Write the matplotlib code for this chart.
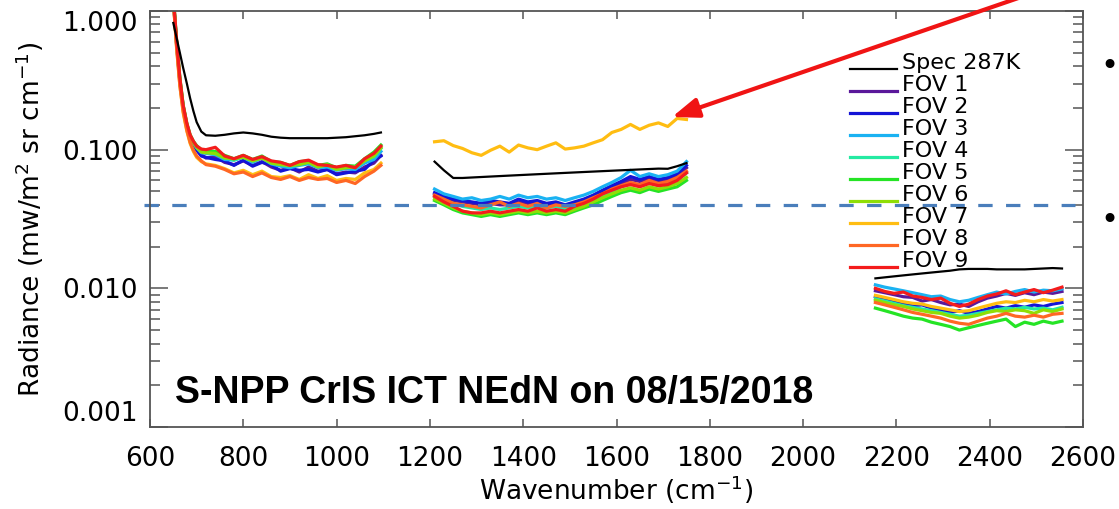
import numpy as np
import matplotlib
matplotlib.use('Agg')
import matplotlib.pyplot as plt
from matplotlib import font_manager
from matplotlib.ticker import FixedLocator, LogLocator, FormatStrFormatter, NullFormatter

# legend entries and FOV colours (FOV 1 .. FOV 9)
labels = ['Spec 287K'] + ['FOV %d' % i for i in range(1, 10)]
fov_colors = ['#5a189a', '#1414d6', '#1ab2f2', '#24eaa2', '#25e425',
              '#8fde05', '#ffbd12', '#ff6724', '#f41c1c']

# longwave band
lw_wn = [650, 657, 664, 671, 679, 686, 693, 700, 710, 720, 740, 760, 780, 800, 820,
         840, 860, 880, 900, 920, 940, 960, 980, 1000, 1020, 1040, 1060, 1080, 1095]
lw_spec = [0.82, 0.64, 0.50, 0.39, 0.30, 0.235, 0.19, 0.158, 0.135, 0.127,
           0.126, 0.128, 0.131, 0.133, 0.131, 0.128, 0.124, 0.122, 0.121, 0.121,
           0.121, 0.121, 0.121, 0.122, 0.123, 0.125, 0.127, 0.130, 0.133]
lw_fov = [
    [1.22, 0.58, 0.31, 0.20, 0.148, 0.123, 0.110, 0.101, 0.092, 0.087,
     0.089, 0.081, 0.078, 0.083, 0.077, 0.082, 0.075, 0.071, 0.074, 0.069,
     0.075, 0.070, 0.072, 0.067, 0.069, 0.068, 0.075, 0.080, 0.091],
    [1.20, 0.57, 0.31, 0.20, 0.147, 0.122, 0.109, 0.099, 0.090, 0.088,
     0.085, 0.083, 0.077, 0.084, 0.076, 0.081, 0.078, 0.070, 0.073, 0.071,
     0.072, 0.069, 0.072, 0.066, 0.068, 0.070, 0.072, 0.084, 0.090],
    [1.24, 0.59, 0.32, 0.205, 0.150, 0.125, 0.112, 0.103, 0.095, 0.094,
     0.092, 0.085, 0.084, 0.088, 0.081, 0.087, 0.079, 0.076, 0.074, 0.077,
     0.079, 0.074, 0.075, 0.071, 0.073, 0.072, 0.080, 0.085, 0.097],
    [1.25, 0.60, 0.32, 0.208, 0.152, 0.126, 0.113, 0.104, 0.098, 0.096,
     0.093, 0.089, 0.084, 0.090, 0.083, 0.088, 0.080, 0.078, 0.076, 0.079,
     0.081, 0.076, 0.077, 0.072, 0.075, 0.074, 0.083, 0.089, 0.102],
    [1.27, 0.61, 0.33, 0.21, 0.154, 0.128, 0.115, 0.107, 0.100, 0.098,
     0.097, 0.091, 0.086, 0.091, 0.085, 0.090, 0.082, 0.081, 0.077, 0.082,
     0.083, 0.077, 0.079, 0.074, 0.077, 0.076, 0.086, 0.096, 0.108],
    [1.25, 0.60, 0.32, 0.207, 0.152, 0.126, 0.113, 0.104, 0.096, 0.095,
     0.094, 0.087, 0.086, 0.088, 0.083, 0.087, 0.080, 0.078, 0.077, 0.078,
     0.081, 0.075, 0.078, 0.072, 0.074, 0.075, 0.083, 0.090, 0.103],
    [1.18, 0.54, 0.29, 0.185, 0.136, 0.111, 0.097, 0.088, 0.082, 0.079,
     0.077, 0.073, 0.068, 0.071, 0.066, 0.070, 0.064, 0.063, 0.065, 0.061,
     0.066, 0.062, 0.065, 0.060, 0.062, 0.061, 0.068, 0.072, 0.080],
    [1.19, 0.55, 0.29, 0.19, 0.138, 0.113, 0.099, 0.090, 0.083, 0.078,
     0.076, 0.072, 0.067, 0.069, 0.064, 0.068, 0.063, 0.061, 0.064, 0.060,
     0.063, 0.061, 0.062, 0.058, 0.060, 0.057, 0.064, 0.070, 0.077],
    [1.28, 0.62, 0.33, 0.21, 0.155, 0.128, 0.115, 0.106, 0.101, 0.100,
     0.104, 0.090, 0.086, 0.091, 0.085, 0.089, 0.083, 0.081, 0.077, 0.082,
     0.084, 0.078, 0.077, 0.075, 0.077, 0.074, 0.086, 0.094, 0.106],
]

# midwave band
mw_wn = [1210, 1230, 1250, 1270, 1290, 1310, 1330, 1350, 1370, 1390, 1410, 1430, 1450, 1470,
         1490, 1510, 1530, 1550, 1570, 1590, 1610, 1630, 1650, 1670, 1690, 1710, 1730, 1750]
mw_spec = [0.082, 0.071, 0.0625, 0.0625, 0.063, 0.0635, 0.064, 0.0645, 0.065, 0.0655,
           0.066, 0.0665, 0.067, 0.0675, 0.068, 0.0685, 0.069, 0.0695, 0.070, 0.0705,
           0.071, 0.0715, 0.072, 0.0725, 0.073, 0.0728, 0.076, 0.080]
mw_fov = [
    [0.048, 0.045, 0.043, 0.042, 0.041, 0.040, 0.041, 0.040, 0.040, 0.042,
     0.041, 0.042, 0.040, 0.041, 0.039, 0.041, 0.043, 0.046, 0.049, 0.053,
     0.057, 0.061, 0.059, 0.062, 0.059, 0.061, 0.065, 0.074],
    [0.049, 0.046, 0.044, 0.043, 0.042, 0.041, 0.043, 0.042, 0.041, 0.044,
     0.042, 0.043, 0.041, 0.042, 0.040, 0.042, 0.044, 0.047, 0.051, 0.055,
     0.059, 0.064, 0.061, 0.064, 0.061, 0.063, 0.067, 0.077],
    [0.052, 0.048, 0.046, 0.044, 0.045, 0.043, 0.044, 0.046, 0.044, 0.047,
     0.045, 0.046, 0.044, 0.045, 0.043, 0.045, 0.047, 0.050, 0.054, 0.058,
     0.063, 0.071, 0.064, 0.067, 0.064, 0.066, 0.070, 0.082],
    [0.046, 0.043, 0.041, 0.039, 0.038, 0.037, 0.038, 0.037, 0.038, 0.039,
     0.038, 0.039, 0.038, 0.039, 0.037, 0.039, 0.041, 0.044, 0.047, 0.050,
     0.054, 0.057, 0.055, 0.058, 0.055, 0.057, 0.060, 0.068],
    [0.043, 0.040, 0.037, 0.035, 0.034, 0.033, 0.034, 0.033, 0.034, 0.035,
     0.034, 0.035, 0.034, 0.035, 0.034, 0.036, 0.038, 0.040, 0.043, 0.046,
     0.049, 0.051, 0.049, 0.052, 0.050, 0.052, 0.054, 0.060],
    [0.044, 0.041, 0.038, 0.036, 0.035, 0.034, 0.035, 0.034, 0.035, 0.036,
     0.035, 0.036, 0.035, 0.036, 0.035, 0.037, 0.039, 0.042, 0.045, 0.048,
     0.051, 0.053, 0.051, 0.054, 0.052, 0.054, 0.057, 0.063],
    [0.114, 0.116, 0.107, 0.102, 0.095, 0.091, 0.099, 0.106, 0.096, 0.108,
     0.103, 0.100, 0.106, 0.112, 0.101, 0.103, 0.106, 0.112, 0.118, 0.133,
     0.140, 0.152, 0.140, 0.150, 0.156, 0.147, 0.168, 0.165],
    [0.047, 0.044, 0.041, 0.040, 0.039, 0.038, 0.040, 0.042, 0.039, 0.041,
     0.039, 0.041, 0.038, 0.040, 0.039, 0.040, 0.042, 0.045, 0.048, 0.052,
     0.055, 0.058, 0.056, 0.060, 0.057, 0.059, 0.063, 0.070],
    [0.046, 0.042, 0.039, 0.036, 0.035, 0.035, 0.036, 0.035, 0.036, 0.037,
     0.036, 0.038, 0.036, 0.037, 0.036, 0.039, 0.041, 0.044, 0.048, 0.051,
     0.054, 0.056, 0.054, 0.057, 0.055, 0.056, 0.060, 0.068],
]

# shortwave band
sw_wn = [2155, 2175, 2195, 2215, 2235, 2255, 2275, 2295, 2315, 2335, 2355,
         2375, 2395, 2415, 2435, 2455, 2475, 2495, 2515, 2535, 2555]
sw_spec = [0.0118, 0.0120, 0.0122, 0.0124, 0.0126, 0.0128, 0.0130, 0.0132, 0.0134, 0.0137,
           0.0138, 0.0138, 0.0138, 0.0137, 0.0137, 0.0137, 0.0137, 0.0138, 0.0139, 0.0140, 0.0139]
sw_fov = [
    [0.0096, 0.0093, 0.0090, 0.0087, 0.0086, 0.0081, 0.0083, 0.0079, 0.0076, 0.0077,
     0.0074, 0.0080, 0.0085, 0.0088, 0.0092, 0.0089, 0.0093, 0.0090, 0.0094, 0.0092, 0.0095],
    [0.0087, 0.0083, 0.0081, 0.0078, 0.0075, 0.0076, 0.0072, 0.0070, 0.0067, 0.0069,
     0.0066, 0.0068, 0.0071, 0.0074, 0.0072, 0.0075, 0.0073, 0.0076, 0.0074, 0.0077, 0.0079],
    [0.0106, 0.0102, 0.0099, 0.0096, 0.0093, 0.0090, 0.0087, 0.0088, 0.0083, 0.0080,
     0.0082, 0.0086, 0.0090, 0.0094, 0.0091, 0.0095, 0.0098, 0.0094, 0.0097, 0.0096, 0.0099],
    [0.0084, 0.0081, 0.0078, 0.0075, 0.0073, 0.0071, 0.0069, 0.0067, 0.0065, 0.0063,
     0.0064, 0.0066, 0.0068, 0.0070, 0.0072, 0.0071, 0.0073, 0.0071, 0.0072, 0.0070, 0.0073],
    [0.0072, 0.0069, 0.0066, 0.0063, 0.0061, 0.0060, 0.0057, 0.0055, 0.0053, 0.0050,
     0.0052, 0.0054, 0.0056, 0.0058, 0.0060, 0.0053, 0.0057, 0.0055, 0.0058, 0.0056, 0.0058],
    [0.0082, 0.0079, 0.0076, 0.0074, 0.0071, 0.0069, 0.0067, 0.0066, 0.0063, 0.0061,
     0.0062, 0.0064, 0.0067, 0.0069, 0.0068, 0.0070, 0.0069, 0.0066, 0.0070, 0.0068, 0.0071],
    [0.0089, 0.0086, 0.0083, 0.0080, 0.0078, 0.0077, 0.0074, 0.0072, 0.0070, 0.0068,
     0.0069, 0.0072, 0.0075, 0.0078, 0.0080, 0.0079, 0.0082, 0.0080, 0.0083, 0.0081, 0.0083],
    [0.0079, 0.0076, 0.0073, 0.0070, 0.0067, 0.0065, 0.0063, 0.0061, 0.0058, 0.0056,
     0.0055, 0.0058, 0.0061, 0.0063, 0.0066, 0.0063, 0.0062, 0.0064, 0.0062, 0.0065, 0.0066],
    [0.0100, 0.0095, 0.0092, 0.0094, 0.0088, 0.0086, 0.0083, 0.0085, 0.0078, 0.0074,
     0.0077, 0.0083, 0.0088, 0.0091, 0.0096, 0.0090, 0.0094, 0.0098, 0.0093, 0.0097, 0.0102],
]

nedn_spec = 0.04
arrow_tip = (1719, 0.172)

W, H = 1119, 509
fig = plt.figure(figsize=(W / 100, H / 100), dpi=100)
ax = fig.add_axes([150 / W, 1 - 427 / H, 933 / W, 416 / H])


def axfrac(px, py):
    # pixel position on the page -> axes fraction
    return (px - 150) / 933, (427 - py) / 416


for wn, spec, fov in [(lw_wn, lw_spec, lw_fov), (mw_wn, mw_spec, mw_fov), (sw_wn, sw_spec, sw_fov)]:
    for k in range(9):
        ax.plot(wn, fov[k], color=fov_colors[k], lw=2.3, solid_joinstyle='round')
    ax.plot(wn, spec, color='black', lw=1.6)

ax.axhline(nedn_spec, xmin=-0.006, xmax=0.991, color='#4a7ebb', lw=2.3,
           dashes=(4.5, 4.2), clip_on=False)

ax.set_yscale('log')
ax.set_xlim(600, 2600)
ax.set_ylim(0.001, 1.0)
ax.set_xticks(range(600, 2601, 200))
ax.yaxis.set_major_locator(FixedLocator([0.001, 0.01, 0.1, 1.0]))
ax.yaxis.set_major_formatter(FormatStrFormatter('%.3f'))
ax.yaxis.set_minor_locator(LogLocator(base=10, subs=np.arange(2, 10)))
ax.yaxis.set_minor_formatter(NullFormatter())
tick_col = '#555555'
ax.tick_params(axis='x', which='major', direction='in', length=6, width=1.1, color=tick_col,
               top=True, bottom=True, labelsize=19, pad=14)
ax.tick_params(axis='y', which='major', direction='in', length=13, width=1.1, color=tick_col,
               left=True, right=True, labelsize=19, pad=9)
ax.tick_params(axis='y', which='minor', direction='in', length=7, width=1.1, color=tick_col,
               left=True, right=True)
for s in ax.spines.values():
    s.set_color(tick_col)
    s.set_linewidth(1.3)

yticks = ax.yaxis.get_major_ticks()
yticks[0].label1.set_va('bottom')
yticks[-1].label1.set_va('top')

ax.set_xlabel('Wavenumber (cm$^{-1}$)', fontsize=19, labelpad=1)
ax.set_ylabel('Radiance (mw/m$^2$ sr cm$^{-1}$)', fontsize=19)
ax.yaxis.set_label_coords(-0.112, 0.5)

# legend drawn row by row
for i, lab in enumerate(labels):
    x0, y0 = axfrac(850, 69 + 22 * i)
    x1, _ = axfrac(897, 69 + 22 * i)
    tx, ty = axfrac(902, 63 + 22 * i)
    if i == 0:
        ax.plot([x0, x1], [y0, y0], color='black', lw=1.6, transform=ax.transAxes)
    else:
        ax.plot([x0, x1], [y0, y0], color=fov_colors[i - 1], lw=2.3, transform=ax.transAxes)
    ax.text(tx, ty, lab, fontsize=16, transform=ax.transAxes, ha='left', va='center')

# bold caption, condensed face where available
names = {f.name for f in font_manager.fontManager.ttflist}
if 'Liberation Sans Narrow' in names:
    cap_font, cap_size = 'Liberation Sans Narrow', 33
else:
    cap_font, cap_size = 'Liberation Sans', 27
cx, cy = axfrac(175, 403)
ax.text(cx, cy, 'S-NPP CrIS ICT NEdN on 08/15/2018', transform=ax.transAxes,
        fontsize=cap_size, fontweight='bold', family=cap_font, va='baseline', ha='left')

ax.annotate('', xy=arrow_tip, xycoords='data', xytext=(1030 / W, 1 + 6 / H),
            textcoords='figure fraction', annotation_clip=False,
            arrowprops=dict(arrowstyle='-|>,head_length=0.8,head_width=0.3', mutation_scale=20,
                            color='#f01414', lw=3, shrinkA=0, shrinkB=0))

for by in (67, 220):
    fig.text(1109 / W, 1 - by / H, '\u2022', fontsize=22, ha='center', va='center')

fig.savefig('out.png', dpi=100)
